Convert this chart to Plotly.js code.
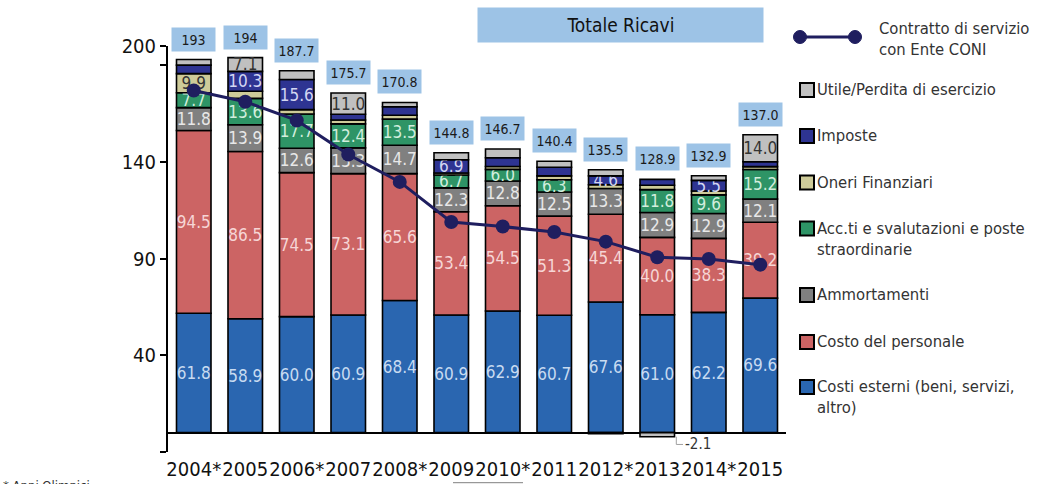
<!DOCTYPE html>
<html>
<head>
<meta charset="utf-8">
<script src="https://cdn.plot.ly/plotly-3.0.1.min.js"></script>
<style>
  html, body { margin: 0; padding: 0; background: #ffffff; }
  #chart { width: 1045px; height: 484px; }
</style>
</head>
<body>
<div id="chart"></div>
<script>
// ---------- DATA ----------
const years = ['2004*', '2005', '2006*', '2007', '2008*', '2009', '2010*', '2011', '2012*', '2013', '2014*', '2015'];

const costiEsterni    = [61.8, 58.9, 60.0, 60.9, 68.4, 60.9, 62.9, 60.7, 67.6, 61.0, 62.2, 69.6];
const costoPersonale  = [94.5, 86.5, 74.5, 73.1, 65.6, 53.4, 54.5, 51.3, 45.4, 40.0, 38.3, 39.2];
const ammortamenti    = [11.8, 13.9, 12.6, 13.3, 14.7, 12.3, 12.8, 12.5, 13.3, 12.9, 12.9, 12.1];
const accantonamenti  = [7.7, 13.6, 17.7, 12.4, 13.5, 6.7, 6.0, 6.3, -0.5, 11.8, 9.6, 15.2];
const oneriFinanziari = [9.9, 3.7, 2.3, 2.0, 2.0, 1.0, 1.5, 2.0, 1.9, 2.3, 2.0, 1.5];
const imposte         = [4.4, 10.3, 15.6, 3.0, 4.4, 6.9, 4.5, 4.5, 4.6, 3.0, 5.5, 2.5];
const utile           = [2.9, 7.1, 4.5, 11.0, 2.2, 3.6, 4.5, 3.1, 3.2, -2.1, 2.4, 14.0];

const contrattoCONI   = [177.0, 171.2, 161.5, 143.9, 129.7, 109.0, 106.6, 103.8, 98.8, 90.7, 89.8, 86.9];

const totaleRicavi    = ['193', '194', '187.7', '175.7', '170.8', '144.8', '146.7', '140.4', '135.5', '128.9', '132.9', '137.0'];

const yTickVals = [-10, 40, 90, 140, 190, 200];
const yTickText = ['', '40', '90', '140', '', '200'];

// ---------- STYLE ----------
const FONT = '"DejaVu Sans Condensed", "DejaVu Sans", sans-serif';
const W = 1045, H = 484;
const ML = 168, MR = 259, MT = 46, MB = 32;
const PW = W - ML - MR, PH = H - MT - MB;
const PX = x => (x - ML) / PW;
const PY = y => (H - MB - y) / PH;
const LABEL_MIN = 4.6;

const series = [
  {name: 'Costi esterni (beni, servizi,<br>altro)', values: costiEsterni, color: '#2A66B0', txt: '#C8DBF1', ly: 387},
  {name: 'Costo del personale', values: costoPersonale, color: '#CC6464', txt: '#F6D6D6', ly: 342},
  {name: 'Ammortamenti', values: ammortamenti, color: '#808080', txt: '#E8E8E8', ly: 295},
  {name: 'Acc.ti e svalutazioni e poste<br>straordinarie', values: accantonamenti, color: '#2E9466', txt: '#D2EEDD', ly: 228.5},
  {name: 'Oneri Finanziari', values: oneriFinanziari, color: '#CECB99', txt: '#333333', ly: 182.5},
  {name: 'Imposte', values: imposte, color: '#2E3492', txt: '#D3D6F2', ly: 136},
  {name: 'Utile/Perdita di esercizio', values: utile, color: '#C0C0C0', txt: '#333333', ly: 90}
];

const traces = series.map(s => ({
  type: 'bar',
  x: years,
  y: s.values,
  name: s.name,
  marker: {color: s.color, line: {color: '#000000', width: 1.6}},
  text: s.values.map(v => v >= LABEL_MIN ? v.toFixed(1) : ''),
  textposition: 'inside',
  insidetextanchor: 'middle',
  textangle: 0,
  constraintext: 'none',
  insidetextfont: {family: FONT, size: 17, color: s.txt},
  hoverinfo: 'skip',
  showlegend: false
}));

traces.push({
  type: 'scatter',
  mode: 'lines+markers',
  x: years,
  y: contrattoCONI,
  name: 'Contratto di servizio con Ente CONI',
  line: {color: '#1F1E5F', width: 3},
  marker: {color: '#1F1E5F', size: 14},
  hoverinfo: 'skip',
  showlegend: false
});

// stack tops (positive part) for the total boxes
const stackTop = years.map((_, i) => series.reduce((a, s) => a + Math.max(0, s.values[i]), 0));

const annotations = [];
const shapes = [];

years.forEach((yr, i) => {
  annotations.push({
    x: i, xref: 'x', y: stackTop[i], yref: 'y',
    yanchor: 'bottom', yshift: 8,
    text: totaleRicavi[i], showarrow: false,
    font: {family: FONT, size: 14, color: '#1a1a1a'},
    bgcolor: '#9DC3E6', width: 41, height: 21, borderpad: 1
  });
});

// negative label for 2013
const negIdx = utile.findIndex(v => v < 0);
annotations.push({
  x: negIdx + 0.5, xref: 'x', y: -6.1, yref: 'y',
  xanchor: 'left', yanchor: 'middle',
  text: utile[negIdx].toFixed(1), showarrow: false,
  font: {family: FONT, size: 15, color: '#333333'}
});
shapes.push({
  type: 'path', xref: 'x', yref: 'y',
  path: `M ${negIdx + 0.37},${utile[negIdx]} L ${negIdx + 0.37},-6.1 L ${negIdx + 0.5},-6.1`,
  line: {color: '#A0A0A0', width: 1}
});

// Title box
annotations.push({
  x: PX(620.5), xref: 'paper', y: PY(25), yref: 'paper',
  xanchor: 'center', yanchor: 'middle',
  text: 'Totale Ricavi', showarrow: false,
  font: {family: FONT, size: 19, color: '#111111'},
  bgcolor: '#9DC3E6', width: 281, height: 30, borderpad: 2
});

// Manual legend: line entry
shapes.push({type: 'line', xref: 'paper', yref: 'paper', x0: PX(800), x1: PX(855), y0: PY(37), y1: PY(37),
  line: {color: '#1F1E5F', width: 3}});
[800, 855].forEach(cx => {
  shapes.push({type: 'circle', xref: 'paper', yref: 'paper',
    x0: PX(cx - 6.5), x1: PX(cx + 6.5), y0: PY(37 + 6.5), y1: PY(37 - 6.5),
    fillcolor: '#1F1E5F', line: {color: '#1F1E5F', width: 1}});
});
annotations.push({
  x: PX(877), xref: 'paper', y: PY(39), yref: 'paper',
  xanchor: 'left', yanchor: 'middle', align: 'left',
  text: 'Contratto di servizio<br>con Ente CONI', showarrow: false,
  font: {family: FONT, size: 16.5, color: '#333333'}
});

// Manual legend: bar entries
series.forEach(s => {
  shapes.push({type: 'rect', xref: 'paper', yref: 'paper',
    x0: PX(800), x1: PX(814), y0: PY(s.ly + 7), y1: PY(s.ly - 7),
    fillcolor: s.color, line: {color: '#000000', width: 2}});
  annotations.push({
    x: PX(816), xref: 'paper', y: PY(s.ly - 11), yref: 'paper',
    xanchor: 'left', yanchor: 'top', align: 'left',
    text: s.name, showarrow: false, borderpad: 0,
    font: {family: FONT, size: 16.5, color: '#333333'}
  });
});

// footnote (cut off at the bottom, as in the original)
annotations.push({
  x: PX(2), xref: 'paper', y: PY(477), yref: 'paper',
  xanchor: 'left', yanchor: 'top', align: 'left',
  text: '* Anni Olimpici', showarrow: false, borderpad: 0,
  font: {family: FONT, size: 13, color: '#333333'}
});
shapes.push({type: 'line', xref: 'paper', yref: 'paper', x0: PX(453), x1: PX(523), y0: PY(482.7), y1: PY(482.7),
  line: {color: '#808080', width: 1}});

const layout = {
  width: W, height: H,
  margin: {l: ML, r: MR, t: MT, b: MB, pad: 0},
  paper_bgcolor: '#ffffff',
  plot_bgcolor: '#ffffff',
  barmode: 'relative',
  bargap: 0.33,
  showlegend: false,
  xaxis: {
    type: 'category',
    range: [-0.5, years.length - 0.5],
    showgrid: false, showline: false, zeroline: false,
    ticks: '', tickangle: 0, ticklabelstandoff: 3,
    tickfont: {family: FONT, size: 20, color: '#111111'},
    automargin: false, fixedrange: true
  },
  yaxis: {
    range: [-10, 200],
    showgrid: false,
    showline: true, linecolor: '#000000', linewidth: 2,
    zeroline: true, zerolinecolor: '#000000', zerolinewidth: 2,
    ticks: 'outside', ticklen: 6, tickwidth: 2, tickcolor: '#000000',
    tickmode: 'array', tickvals: yTickVals, ticktext: yTickText,
    tickfont: {family: FONT, size: 20, color: '#111111'},
    automargin: false, fixedrange: true
  },
  annotations: annotations,
  shapes: shapes
};

Plotly.newPlot('chart', traces, layout, {displayModeBar: false, staticPlot: true});
</script>
</body>
</html>
